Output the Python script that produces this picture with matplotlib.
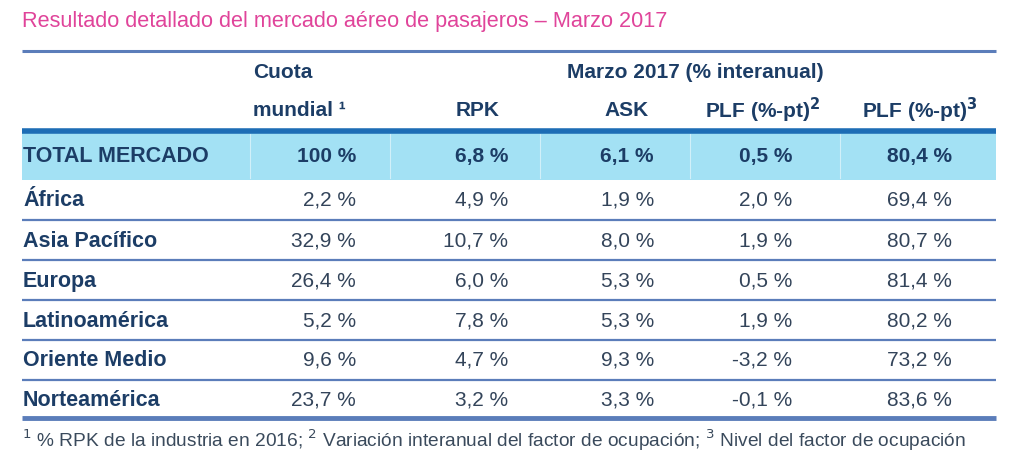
import matplotlib.pyplot as plt

plt.rcParams['font.family'] = ['Liberation Sans', 'DejaVu Sans']

# Table data
title = "Resultado detallado del mercado aéreo de pasajeros – Marzo 2017"
regions = ["TOTAL MERCADO", "África", "Asia Pacífico", "Europa",
           "Latinoamérica", "Oriente Medio", "Norteamérica"]
cuota = ["100 %", "2,2 %", "32,9 %", "26,4 %", "5,2 %", "9,6 %", "23,7 %"]
rpk = ["6,8 %", "4,9 %", "10,7 %", "6,0 %", "7,8 %", "4,7 %", "3,2 %"]
ask = ["6,1 %", "1,9 %", "8,0 %", "5,3 %", "5,3 %", "9,3 %", "3,3 %"]
plf_var = ["0,5 %", "2,0 %", "1,9 %", "0,5 %", "1,9 %", "-3,2 %", "-0,1 %"]
plf_lvl = ["80,4 %", "69,4 %", "80,7 %", "81,4 %", "80,2 %", "73,2 %", "83,6 %"]
footnote = (r"$^{1}$ % RPK de la industria en 2016; $^{2}$ Variación interanual del factor "
            r"de ocupación; $^{3}$ Nivel del factor de ocupación")

columns = [cuota, rpk, ask, plf_var, plf_lvl]
col_right = [356, 508, 654, 792, 952]   # right edge of each value column (px)

navy = "#1c3d66"
val_color = "#33445a"
line_blue = "#5b7dba"

W, H = 1024, 473
fig = plt.figure(figsize=(W / 100, H / 100), dpi=100)
ax = fig.add_axes([0, 0, 1, 1])
ax.set_xlim(0, W)
ax.set_ylim(H, 0)
ax.axis("off")

x0, x1 = 22, 996
hs = 15  # header font size

# title
ax.text(x0, 21, title, color="#e0449a", fontsize=15.6, va="center", ha="left")
ax.plot([x0, x1], [51, 51], color=line_blue, lw=2.2, solid_capstyle="butt")

# header
ax.text(253, 73, "Cuota", color=navy, fontsize=hs, fontweight="bold", va="center")
ax.text(253, 110, "mundial ¹", color=navy, fontsize=hs, fontweight="bold", va="center")
ax.text(695, 73, "Marzo 2017 (% interanual)", color=navy, fontsize=hs,
        fontweight="bold", va="center", ha="center")
ax.text(478, 110, "RPK", color=navy, fontsize=hs, fontweight="bold", va="center", ha="center")
ax.text(627, 110, "ASK", color=navy, fontsize=hs, fontweight="bold", va="center", ha="center")
ax.text(763, 110, r"PLF (%-pt)$^{\mathbf{2}}$", color=navy, fontsize=hs,
        fontweight="bold", va="center", ha="center")
ax.text(920, 110, r"PLF (%-pt)$^{\mathbf{3}}$", color=navy, fontsize=hs,
        fontweight="bold", va="center", ha="center")

# total row band
ax.fill_between([x0, x1], 132, 180, color="#a3e1f4", lw=0)
for xs in [250, 390, 540, 690, 840]:
    ax.plot([xs, xs], [134, 178], color="white", lw=0.8, alpha=0.5)
ax.plot([x0, x1], [131, 131], color="#1d6db5", lw=4, solid_capstyle="butt")

# rows
row_y = [156, 200, 241, 281, 321, 360, 400]
for i, name in enumerate(regions):
    y = row_y[i]
    bold = i == 0
    ax.text(x0 + 1, y, name, color=navy, fontsize=15.5, fontweight="bold", va="center")
    for col, xr in zip(columns, col_right):
        ax.text(xr, y, col[i], color=navy if bold else val_color, fontsize=15,
                fontweight="bold" if bold else "normal", va="center", ha="right")

for yl in [220, 260, 300, 340, 380]:
    ax.plot([x0, x1], [yl, yl], color=line_blue, lw=1.6, solid_capstyle="butt")
ax.plot([x0, x1], [418, 418], color=line_blue, lw=3.5, solid_capstyle="butt")

# footnote
ax.text(x0, 440, footnote, color="#3a4a5c", fontsize=13.8, va="center", ha="left")

fig.savefig("out.png", dpi=100, facecolor="white")
